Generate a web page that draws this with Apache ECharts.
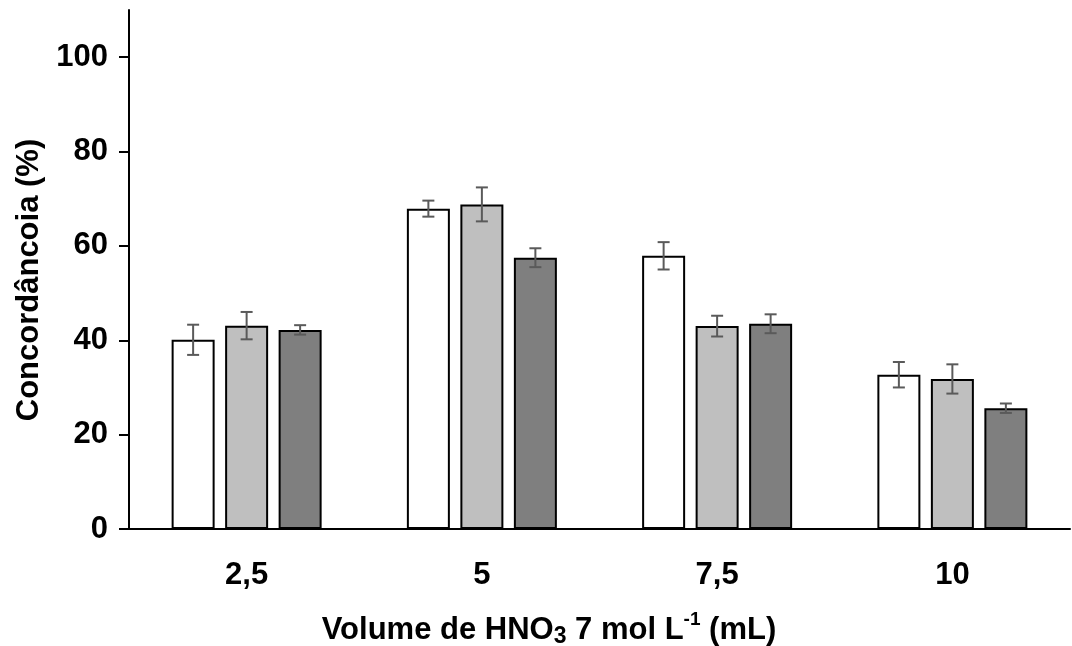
<!DOCTYPE html>
<html>
<head>
<meta charset="utf-8">
<script src="https://cdn.jsdelivr.net/npm/echarts@6/dist/echarts.min.js"></script>
<style>html,body{margin:0;padding:0;background:#fff;}#c{width:1072px;height:646px;}</style>
</head>
<body>
<div id="c"></div>
<script>
var categories = ['2,5', '5', '7,5', '10'];
var valWhite = [40.1, 67.9, 57.9, 32.7];
var valLight = [43.1, 68.8, 43.0, 31.8];
var valDark  = [42.2, 57.5, 43.5, 25.6];
var errWhite = [3.2, 1.7, 2.9, 2.7];
var errLight = [2.9, 3.6, 2.2, 3.1];
var errDark  = [1.0, 2.0, 2.0, 1.0];
var yTicks = [0, 20, 40, 60, 80, 100];

var BAR_W = 43, GAP = 10.5;
var FONT = 'Liberation Sans, Arial, sans-serif';

function errSeries(vals, errs, idx) {
  var data = vals.map(function (v, i) { return [i, v, errs[i]]; });
  return {
    type: 'custom',
    z: 10,
    silent: true,
    data: data,
    renderItem: function (params, api) {
      var i = api.value(0), v = api.value(1), e = api.value(2);
      var off = (idx - 1) * (BAR_W + GAP);
      var hi = api.coord([i, v + e]);
      var lo = api.coord([i, v - e]);
      var x = hi[0] + off;
      var st = { stroke: '#5a5a5a', lineWidth: 2 };
      return {
        type: 'group',
        children: [
          { type: 'line', shape: { x1: x, y1: hi[1], x2: x, y2: lo[1] }, style: st },
          { type: 'line', shape: { x1: x - 6, y1: hi[1], x2: x + 6, y2: hi[1] }, style: st },
          { type: 'line', shape: { x1: x - 6, y1: lo[1], x2: x + 6, y2: lo[1] }, style: st }
        ]
      };
    }
  };
}

function barSeries(vals, color) {
  return {
    type: 'bar',
    data: vals,
    barWidth: BAR_W,
    barGap: (GAP / BAR_W * 100) + '%',
    itemStyle: { color: color, borderColor: '#000', borderWidth: 2 }
  };
}

var chart = echarts.init(document.getElementById('c'), null, { renderer: 'canvas' });
chart.setOption({
  animation: false,
  backgroundColor: '#fff',
  grid: { left: 129, right: 2, top: 10, bottom: 117 },
  xAxis: {
    type: 'category',
    data: categories,
    axisLine: { lineStyle: { color: '#000', width: 2 } },
    axisTick: { show: false },
    axisLabel: { margin: 31, color: '#000', fontSize: 31, fontWeight: 'bold', fontFamily: FONT }
  },
  yAxis: {
    type: 'value',
    min: 0, max: 110,
    axisLine: { show: true, lineStyle: { color: '#000', width: 2 } },
    axisTick: { show: true, length: 10, customValues: yTicks, lineStyle: { color: '#000', width: 2 } },
    axisLabel: { margin: 21, customValues: yTicks, color: '#000', fontSize: 31, fontWeight: 'bold', fontFamily: FONT },
    splitLine: { show: false }
  },
  series: [
    barSeries(valWhite, '#ffffff'),
    barSeries(valLight, '#bfbfbf'),
    barSeries(valDark, '#7f7f7f'),
    errSeries(valWhite, errWhite, 0),
    errSeries(valLight, errLight, 1),
    errSeries(valDark, errDark, 2)
  ],
  graphic: [
    {
      type: 'text',
      x: 29, y: 280,
      rotation: Math.PI / 2,
      style: {
        text: 'Concordâncoia (%)',
        align: 'center', verticalAlign: 'middle',
        fill: '#000', font: 'bold 31px ' + FONT
      }
    },
    {
      type: 'text',
      x: 549, y: 626,
      style: {
        text: '{n|Volume de HNO}{s|3}{n| 7 mol L}{p|-1}{n| (mL)}',
        align: 'center', verticalAlign: 'middle',
        rich: {
          n: { fontSize: 31, fontWeight: 'bold', fontFamily: FONT, fill: '#000', lineHeight: 40, verticalAlign: 'bottom' },
          s: { fontSize: 23, fontWeight: 'bold', fontFamily: FONT, fill: '#000', lineHeight: 40, verticalAlign: 'bottom', padding: [0, 0, -2, 0] },
          p: { fontSize: 19, fontWeight: 'bold', fontFamily: FONT, fill: '#000', lineHeight: 40, verticalAlign: 'top', padding: [4, 0, 0, 0] }
        }
      }
    }
  ]
});
</script>
</body>
</html>
